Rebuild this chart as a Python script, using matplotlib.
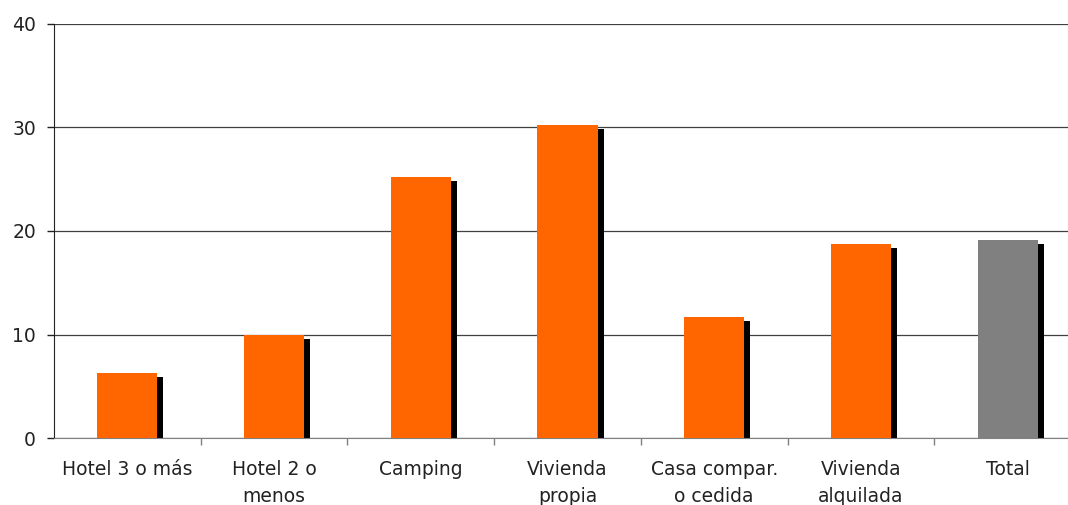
import matplotlib
matplotlib.use("Agg")
import matplotlib.pyplot as plt
import matplotlib.transforms as mtransforms
import numpy as np

categories = ["Hotel 3 o más", "Hotel 2 o\nmenos", "Camping", "Vivienda\npropia",
              "Casa compar.\no cedida", "Vivienda\nalquilada", "Total"]
values = [6.3, 10.0, 25.2, 30.2, 11.7, 18.7, 19.1]
bar_colors = ["#FF6600"] * 6 + ["#808080"]
y_ticks = [0, 10, 20, 30, 40]

plt.rcParams["font.family"] = ["DejaVu Sans"]

W, H = 1068, 505
fig = plt.figure(figsize=(W / 100, H / 100), dpi=100)
ax = fig.add_axes([54 / W, (H - 438) / H, (1081 - 54) / W, (438 - 24) / H])

x = np.arange(len(categories))
width = 0.41

# drop shadow: same bars shifted right and down
shadow = mtransforms.offset_copy(ax.transData, fig=fig, x=6, y=-4, units="dots")
ax.bar(x, values, width=width, color="black", transform=shadow, zorder=2)
ax.bar(x, values, width=width, color=bar_colors, zorder=3)

ax.set_xlim(-0.5, len(categories) - 0.5)
ax.set_ylim(0, 40)
ax.set_yticks(y_ticks)
ax.set_yticklabels([str(v) for v in y_ticks], fontsize=13.5, color="#222222")
ax.yaxis.grid(True, color="#404040", linewidth=0.9)
ax.set_axisbelow(True)

ax.set_xticks(x)
ax.set_xticklabels(categories, fontsize=13.5, color="#222222", linespacing=1.55)
ax.tick_params(axis="x", length=0, pad=16)
ax.set_xticks(np.arange(0.5, len(categories) - 0.5, 1), minor=True)
ax.tick_params(axis="x", which="minor", length=5, color="#808080", width=1)
ax.tick_params(axis="y", length=5, width=1, color="#222222", pad=8)

for s in ["top", "right"]:
    ax.spines[s].set_visible(False)
ax.spines["left"].set_color("#222222")
ax.spines["bottom"].set_color("#808080")

fig.savefig("out.png", dpi=100)
